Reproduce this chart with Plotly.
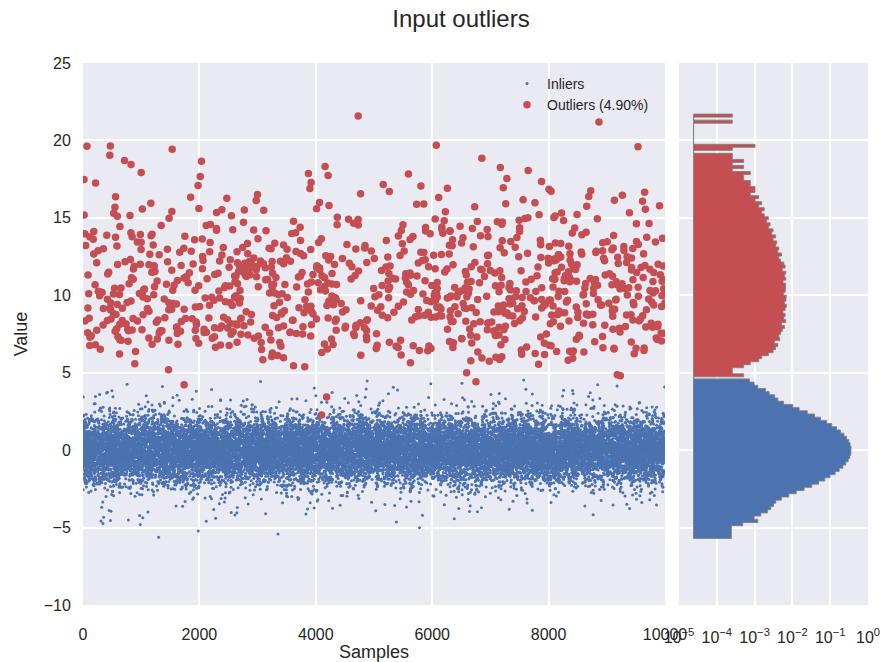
import numpy as np
import plotly.graph_objects as go

# ---------------------------------------------------------------- data
N_SAMPLES = 10000          # sample index axis
N_FEATURES = 2             # each sample carries two values
N_VALUES = N_SAMPLES * N_FEATURES

# Inlier values: counts in 50 equal bins over this range
INLIER_RANGE = (-5.7, 4.6)
inlier_counts = [
    1, 1, 1, 1, 2, 5, 4, 6, 9, 11,
    13, 15, 21, 33, 52, 84, 134, 202, 296, 408,
    556, 710, 892, 1058, 1226, 1352, 1440, 1470, 1464, 1378,
    1276, 1112, 950, 768, 608, 452, 332, 228, 158, 102,
    62, 42, 24, 17, 14, 10, 8, 5, 4, 3,
]

# Outlier values: counts in 100 equal bins over this range
OUTLIER_RANGE = (2.2, 21.7)
outlier_counts = [
    1, 0, 0, 0, 0, 0, 1, 0, 0, 0,
    1, 1, 0, 2, 1, 1, 2, 3, 5, 6,
    9, 12, 14, 16, 13, 18, 17, 19, 21, 24,
    20, 26, 23, 25, 22, 25, 27, 24, 26, 27,
    23, 25, 25, 26, 22, 26, 24, 26, 21, 25,
    23, 19, 17, 20, 16, 17, 14, 15, 12, 14,
    11, 12, 9, 10, 8, 9, 7, 6, 7, 5,
    6, 4, 5, 3, 4, 4, 3, 3, 2, 2,
    3, 1, 2, 1, 2, 1, 1, 0, 1, 4,
    0, 0, 0, 0, 0, 0, 0, 1, 0, 1,
]

x_ticks = [0, 2000, 4000, 6000, 8000, 10000]
y_ticks = [-10, -5, 0, 5, 10, 15, 20, 25]
hist_ticks = [1e-5, 1e-4, 1e-3, 1e-2, 1e-1, 1e0]
hist_tick_text = ["10<sup>\u22125</sup>", "10<sup>\u22124</sup>", "10<sup>\u22123</sup>",
                  "10<sup>\u22122</sup>", "10<sup>\u22121</sup>", "10<sup>0</sup>"]

# ---------------------------------------------------------------- style
BLUE = "#4C72B0"
RED = "#C44E52"
BG = "#EAEAF2"
EDGE = "rgba(128,128,128,0.9)"
TXT = "#262626"
FONT = "Liberation Sans, Arial, sans-serif"


def van_der_corput(n, base):
    n = np.asarray(n, dtype=np.int64).copy()
    out = np.zeros(n.shape, dtype=float)
    denom = 1.0
    while np.any(n > 0):
        denom *= base
        out += (n % base) / denom
        n //= base
    return out


def expand(value_range, counts, phase):
    """Place each bin's values inside the bin and spread them over the sample
    index with a quadratic Weyl sequence on a strided index (deterministic)."""
    lo, hi = value_range
    w = (hi - lo) / len(counts)
    ys = []
    for k, c in enumerate(counts):
        if c == 0:
            continue
        j = np.arange(c)
        ys.append(lo + w * (k + 0.05 + 0.9 * van_der_corput(j + 1, 3)))
    ys = np.concatenate(ys)
    n = len(ys)
    g = (np.arange(n, dtype=np.int64) * 7919) % n
    g = g.astype(np.float64)
    frac = np.mod(g * 0.7548776662466927 + g * g * 0.5698402909980532 + phase, 1.0)
    xs = np.round(frac * (N_SAMPLES - 1))
    return xs, ys


in_x, in_y = expand(INLIER_RANGE, inlier_counts, 0.13)
out_x, out_y = expand(OUTLIER_RANGE, outlier_counts, 0.41)
pct = 100.0 * len(out_y) / N_VALUES


def density(values, value_range, nbins):
    edges = np.linspace(value_range[0], value_range[1], nbins + 1)
    cnt, _ = np.histogram(values, bins=edges)
    w = edges[1] - edges[0]
    return edges, cnt / (N_VALUES * w)


in_e, in_d = density(in_y, INLIER_RANGE, len(inlier_counts))
out_e, out_d = density(out_y, OUTLIER_RANGE, len(outlier_counts))
base = min(in_d[in_d > 0].min(), out_d[out_d > 0].min()) / 10.0


def step_outline(edges, dens):
    """Closed step polygon of a filled histogram lying along the value axis."""
    d = np.where(dens > 0, dens, base)
    xs = [base]
    ys = [edges[0]]
    for k in range(len(d)):
        xs += [d[k], d[k]]
        ys += [edges[k], edges[k + 1]]
    xs += [base, base]
    ys += [edges[-1], edges[0]]
    return xs, ys


fig = go.Figure()
fig.add_trace(go.Scatter(
    x=in_x, y=in_y, mode="markers", name="Inliers",
    marker=dict(size=3, color=BLUE, line=dict(width=0)),
    xaxis="x", yaxis="y"))
fig.add_trace(go.Scatter(
    x=out_x, y=out_y, mode="markers", name=f"Outliers ({pct:.2f}%)",
    marker=dict(size=7.5, color=RED, line=dict(width=0)),
    xaxis="x", yaxis="y"))

for edges, dens, col in [(out_e, out_d, RED), (in_e, in_d, BLUE)]:
    hx, hy = step_outline(edges, dens)
    fig.add_trace(go.Scatter(
        x=hx, y=hy, mode="lines", fill="toself", fillcolor=col,
        line=dict(color=EDGE, width=1, shape="linear"),
        showlegend=False, hoverinfo="skip", xaxis="x2", yaxis="y2"))

L, R, T, B = 83, 14, 63, 57
W, H = 882, 662
pw = W - L - R
main_end = (665 - L) / pw
hist_start = (679 - L) / pw

axis_common = dict(showgrid=True, gridcolor="white", gridwidth=1.5, zeroline=False,
                   showline=False, ticks="outside", tickcolor="rgba(0,0,0,0)",
                   automargin=False,
                   tickfont=dict(size=16, color=TXT, family=FONT))

fig.update_layout(
    width=W, height=H,
    margin=dict(l=L, r=R, t=T, b=B, autoexpand=False),
    paper_bgcolor="white", plot_bgcolor=BG,
    font=dict(family=FONT, color=TXT),
    title=dict(text="Input outliers", x=461 / W, xanchor="center",
               y=1 - 19 / H, yanchor="middle", font=dict(size=24, color=TXT)),
    xaxis=dict(domain=[0, main_end], range=[0, 10000], tickvals=x_ticks,
               ticktext=[str(v) for v in x_ticks], ticklen=15, anchor="y",
               title=dict(text="Samples", font=dict(size=18, color=TXT), standoff=12),
               **axis_common),
    yaxis=dict(domain=[0, 1], range=[-10, 25], tickvals=y_ticks,
               ticklen=8, anchor="x",
               title=dict(text="Value", font=dict(size=18, color=TXT), standoff=11),
               **axis_common),
    xaxis2=dict(domain=[hist_start, 1], type="log", range=[-5, 0],
                tickvals=hist_ticks, ticktext=hist_tick_text, ticklen=18,
                anchor="y2", **axis_common),
    yaxis2=dict(domain=[0, 1], matches="y", tickvals=y_ticks, showticklabels=False,
                anchor="x2", **axis_common),
    legend=dict(x=(507 - L) / pw, y=1 - (68 - T) / (H - T - B), xanchor="left",
                yanchor="top", bgcolor="rgba(0,0,0,0)",
                font=dict(size=14, color=TXT, family=FONT),
                itemsizing="trace", tracegroupgap=0),
)

fig.write_html("out.html")
